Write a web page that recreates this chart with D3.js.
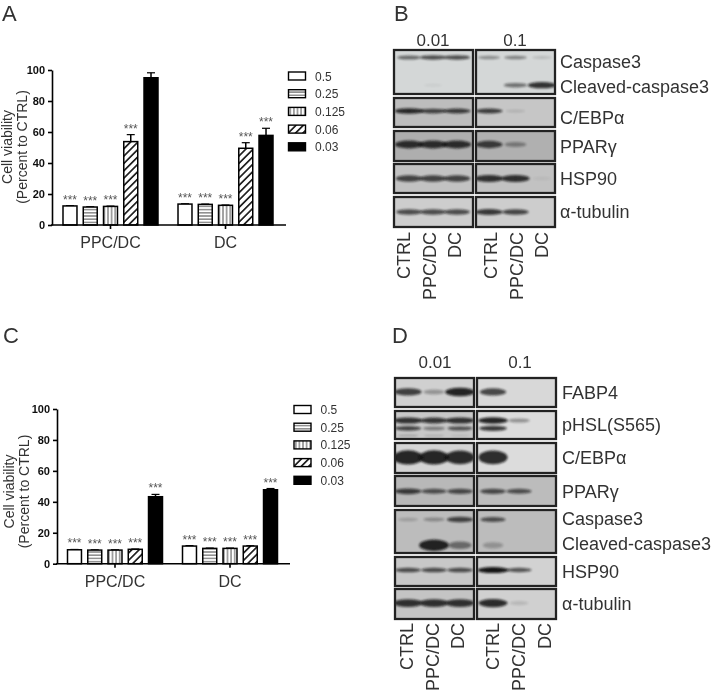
<!DOCTYPE html>
<html>
<head>
    <meta charset="UTF-8">
    <title>Cell viability and western blots</title>
    <script src="https://d3js.org/d3.v7.min.js"></script>
    <style>
        body { margin: 0; background: #fff; }
        text { font-family: "Liberation Sans", Arial, sans-serif; fill: #333; }
    </style>
</head>
<body>
    <div id="chart"></div>
    <script>
        // doses and groups shared by both bar charts
        var groups = ["PPC/DC", "DC"];
        var doses = ["0.5", "0.25", "0.125", "0.06", "0.03"];
        var yTicks = [0, 20, 40, 60, 80, 100];

        // panel A
        var aPpcDc = [12.3, 11.6, 12, 53.8, 95];
        var aPpcDcErr = [0.2, 0.2, 0.2, 4.5, 3.2];
        var aDc = [13.5, 13.3, 12.7, 49.5, 57.8];
        var aDcErr = [0.2, 0.2, 0.2, 3.6, 4.6];
        var aPpcDcStars = ["***", "***", "***", "***", ""];
        var aDcStars = ["***", "***", "***", "***", "***"];

        // panel C
        var cPpcDc = [9, 8.8, 8.8, 9.3, 43.3];
        var cPpcDcErr = [0.2, 0.2, 0.2, 0.2, 1.5];
        var cDc = [11.4, 9.9, 9.9, 11.4, 47.8];
        var cDcErr = [0.3, 0.2, 0.2, 0.2, 0.8];
        var cPpcDcStars = ["***", "***", "***", "***", "***"];
        var cDcStars = ["***", "***", "***", "***", "***"];

        // blot band strength 0-1, lanes are CTRL, PPC/DC, DC at 0.01 then at 0.1
        var lanes = ["CTRL", "PPC/DC", "DC"];
        var bCaspase3 = [0.45, 0.6, 0.6, 0.3, 0.35, 0.12];
        var bCleaved = [0, 0.04, 0, 0, 0.42, 0.8];
        var bCebpa = [0.85, 0.65, 0.7, 0.7, 0.1, 0];
        var bPparg = [0.8, 0.8, 0.8, 0.7, 0.3, 0];
        var bHsp90 = [0.65, 0.65, 0.65, 0.8, 0.8, 0.04];
        var bTubulin = [0.6, 0.6, 0.6, 0.75, 0.65, 0];

        var dFabp4 = [0.7, 0.25, 0.9, 0.65, 0, 0];
        var dPhslUpper = [0.8, 0.75, 0.8, 0.9, 0.3, 0];
        var dPhslLower = [0.65, 0.35, 0.55, 0.75, 0, 0];
        var dPhslFaint = [0.2, 0.15, 0.1, 0, 0, 0];
        var dCebpa = [0.9, 0.9, 0.85, 0.85, 0, 0];
        var dPparg = [0.7, 0.55, 0.6, 0.6, 0.55, 0];
        var dCaspase3 = [0.15, 0.25, 0.65, 0.55, 0, 0];
        var dCleaved = [0, 0.9, 0.4, 0.2, 0, 0];
        var dHsp90 = [0.6, 0.6, 0.6, 1, 0.55, 0];
        var dTubulin = [0.8, 0.8, 0.8, 0.85, 0.1, 0];

        var width = 713, height = 694;

        var svg = d3.select("#chart")
            .append("svg")
            .attr("width", width)
            .attr("height", height);

        var defs = svg.append("defs");

        // the figure is a slightly soft scan
        defs.append("filter").attr("id", "soft")
            .attr("filterUnits", "userSpaceOnUse")
            .attr("x", 0).attr("y", 0).attr("width", width).attr("height", height)
            .append("feGaussianBlur").attr("stdDeviation", 0.35);
        defs.append("filter").attr("id", "bandBlur")
            .attr("x", "-30%").attr("y", "-80%").attr("width", "160%").attr("height", "260%")
            .append("feGaussianBlur").attr("stdDeviation", 1.3);

        function addPattern(id, size, angle, lineWidth) {
            var p = defs.append("pattern")
                .attr("id", id)
                .attr("patternUnits", "userSpaceOnUse")
                .attr("width", size)
                .attr("height", size)
                .attr("patternTransform", "rotate(" + angle + ")");
            p.append("rect").attr("width", size).attr("height", size).attr("fill", "#fff");
            p.append("line")
                .attr("x1", 0).attr("x2", size)
                .attr("y1", size / 2).attr("y2", size / 2)
                .attr("stroke", "#222")
                .attr("stroke-width", lineWidth);
        }
        addPattern("horiz", 3.2, 0, 0.8);
        addPattern("vert", 3.6, 90, 0.8);
        addPattern("diag", 5.2, -45, 1.7);

        var fills = ["#fff", "url(#horiz)", "url(#vert)", "url(#diag)", "#000"];

        var root = svg.append("g").attr("filter", "url(#soft)");

        function panelLetter(txt, x, y) {
            root.append("text").attr("x", x).attr("y", y)
                .attr("font-size", 22)
                .text(txt);
        }

        function drawBars(cfg) {
            var g = root.append("g");

            var y = d3.scaleLinear().domain([0, 100]).range([cfg.y0, cfg.y100]);
            var x0 = d3.scaleBand().domain(groups).range([cfg.barsLeft, cfg.barsRight]).paddingInner(0.174);
            var x1 = d3.scaleBand().domain(doses).range([0, x0.bandwidth()]).paddingInner(0.31);

            groups.forEach(function(group, gi) {
                var rows = doses.map(function(dose, i) {
                    return {
                        dose: dose,
                        fill: fills[i],
                        value: cfg.values[gi][i],
                        err: cfg.errs[gi][i],
                        star: cfg.stars[gi][i]
                    };
                });
                var bars = g.append("g")
                    .attr("transform", "translate(" + x0(group) + ",0)")
                    .selectAll("g").data(rows).enter().append("g");

                // error bar, upper half only
                bars.append("line")
                    .attr("x1", function(d) { return x1(d.dose) + x1.bandwidth() / 2; })
                    .attr("x2", function(d) { return x1(d.dose) + x1.bandwidth() / 2; })
                    .attr("y1", function(d) { return y(d.value); })
                    .attr("y2", function(d) { return y(d.value + d.err); })
                    .attr("stroke", "#000").attr("stroke-width", 1.5);
                bars.append("line")
                    .attr("x1", function(d) { return x1(d.dose) + x1.bandwidth() / 2 - 4; })
                    .attr("x2", function(d) { return x1(d.dose) + x1.bandwidth() / 2 + 4; })
                    .attr("y1", function(d) { return y(d.value + d.err); })
                    .attr("y2", function(d) { return y(d.value + d.err); })
                    .attr("stroke", "#000").attr("stroke-width", 1.2);

                bars.append("rect")
                    .attr("x", function(d) { return x1(d.dose); })
                    .attr("width", x1.bandwidth())
                    .attr("y", function(d) { return y(d.value); })
                    .attr("height", function(d) { return y(0) - y(d.value); })
                    .attr("fill", function(d) { return d.fill; })
                    .attr("stroke", "#000")
                    .attr("stroke-width", 1.5);

                bars.append("text")
                    .attr("x", function(d) { return x1(d.dose) + x1.bandwidth() / 2; })
                    .attr("y", function(d) { return y(d.value + d.err) - 2; })
                    .attr("text-anchor", "middle")
                    .attr("font-size", 12)
                    .style("fill", "#555")
                    .text(function(d) { return d.star; });
            });

            // axes
            var yAxis = g.append("g")
                .attr("transform", "translate(" + cfg.axisX + ",0)")
                .call(d3.axisLeft(y).tickValues(yTicks).tickSize(4).tickSizeOuter(0));
            yAxis.selectAll("path, line").attr("stroke", "#000").attr("stroke-width", 1.6);
            yAxis.selectAll("text")
                .attr("font-size", 11)
                .attr("font-weight", "bold")
                .attr("font-family", null)
                .style("fill", "#111");

            var xAxis = g.append("g")
                .attr("transform", "translate(0," + cfg.y0 + ")")
                .call(d3.axisBottom(x0).tickSize(4).tickSizeOuter(0));
            xAxis.select(".domain").remove();
            xAxis.selectAll("line").attr("stroke", "#000").attr("stroke-width", 1.6);
            xAxis.selectAll("text")
                .attr("font-size", 16)
                .attr("font-family", null)
                .attr("dy", "1.02em");
            g.append("line")
                .attr("x1", cfg.axisX - 1).attr("x2", cfg.axisEnd)
                .attr("y1", cfg.y0).attr("y2", cfg.y0)
                .attr("stroke", "#000").attr("stroke-width", 1.6);

            // y title, two lines
            ["Cell viability", "(Percent to CTRL)"].forEach(function(line, i) {
                g.append("text")
                    .attr("transform", "translate(" + (cfg.titleX + i * 15) + "," + cfg.titleY + ") rotate(-90)")
                    .attr("text-anchor", "middle")
                    .attr("font-size", 14)
                    .text(line);
            });

            // legend
            var legend = g.selectAll(".legend").data(doses).enter().append("g")
                .attr("transform", function(d, i) {
                    return "translate(" + cfg.legendX + "," + (cfg.legendY + i * 17.7) + ")";
                });
            legend.append("rect")
                .attr("x", 0).attr("y", -4)
                .attr("width", 17).attr("height", 8)
                .attr("fill", function(d, i) { return fills[i]; })
                .attr("stroke", "#000")
                .attr("stroke-width", 1.4);
            legend.append("text")
                .attr("x", 26.5).attr("y", 4.5)
                .attr("font-size", 12)
                .text(function(d) { return d; });
        }

        // band look is derived from strength through scales
        var bandDark = d3.scaleLinear().domain([0, 0.5, 1]).range([0, 0.6, 0.95]);
        var bandWide = d3.scaleLinear().domain([0, 0.01, 1]).range([0, 18, 31]);
        var bandThick = d3.scaleLinear().domain([0, 1]).range([0.4, 1]);

        function drawBlot(cfg) {
            var g = root.append("g");

            [0, 1].forEach(function(side) {
                var px = cfg.panels[side];
                var lane = d3.scalePoint().domain(lanes).range(cfg.laneRanges[side]);
                var laneText = d3.scalePoint().domain(lanes).range(cfg.labelRanges[side]);

                g.append("text")
                    .attr("x", cfg.headX[side])
                    .attr("y", cfg.headY)
                    .attr("text-anchor", "middle")
                    .attr("font-size", 17)
                    .text(cfg.heads[side]);

                cfg.rows.forEach(function(row, ri) {
                    var clipId = cfg.id + side + "r" + ri;
                    defs.append("clipPath").attr("id", clipId)
                        .append("rect")
                        .attr("x", px[0]).attr("y", row.y[0])
                        .attr("width", px[1] - px[0]).attr("height", row.y[1] - row.y[0]);

                    g.append("rect")
                        .attr("x", px[0]).attr("y", row.y[0])
                        .attr("width", px[1] - px[0]).attr("height", row.y[1] - row.y[0])
                        .attr("fill", row.bg[side]);

                    row.tracks.forEach(function(track) {
                        var vals = track.values.slice(side * 3, side * 3 + 3);
                        var cy = row.y[0] + track.at * (row.y[1] - row.y[0]);
                        g.append("g").attr("clip-path", "url(#" + clipId + ")")
                            .selectAll("ellipse")
                            .data(vals.map(function(v, i) { return {lane: lanes[i], v: v}; }))
                            .enter().append("ellipse")
                            .attr("cx", function(d) { return lane(d.lane); })
                            .attr("cy", cy)
                            .attr("rx", function(d) { return bandWide(d.v) / 2; })
                            .attr("ry", function(d) { return track.thick * bandThick(d.v) / 2; })
                            .attr("fill", "#111")
                            .attr("opacity", function(d) { return bandDark(d.v); })
                            .attr("filter", "url(#bandBlur)");
                    });

                    g.append("rect")
                        .attr("x", px[0]).attr("y", row.y[0])
                        .attr("width", px[1] - px[0]).attr("height", row.y[1] - row.y[0])
                        .attr("fill", "none")
                        .attr("stroke", "#222")
                        .attr("stroke-width", 2.3);
                });

                g.selectAll(".laneLabel" + side).data(lanes).enter().append("text")
                    .attr("transform", function(d) {
                        return "translate(" + laneText(d) + "," + cfg.laneY + ") rotate(-90)";
                    })
                    .attr("text-anchor", "end")
                    .attr("dominant-baseline", "central")
                    .attr("font-size", 18)
                    .text(function(d) { return d; });
            });

            cfg.labels.forEach(function(l) {
                g.append("text")
                    .attr("x", cfg.labelX).attr("y", l[1] + 6)
                    .attr("font-size", 18)
                    .text(l[0]);
            });
        }

        panelLetter("A", 2, 21);
        panelLetter("B", 394, 21);
        panelLetter("C", 3, 343);
        panelLetter("D", 392, 343);

        drawBars({
            values: [aPpcDc, aDc], errs: [aPpcDcErr, aDcErr], stars: [aPpcDcStars, aDcStars],
            y0: 225, y100: 70, axisX: 52, axisEnd: 286,
            barsLeft: 63, barsRight: 273,
            titleX: 12, titleY: 147, legendX: 288.5, legendY: 76
        });

        drawBars({
            values: [cPpcDc, cDc], errs: [cPpcDcErr, cDcErr], stars: [cPpcDcStars, cDcStars],
            y0: 563.7, y100: 409, axisX: 57, axisEnd: 290,
            barsLeft: 67.5, barsRight: 277.5,
            titleX: 14, titleY: 491.5, legendX: 294, legendY: 409.5
        });

        drawBlot({
            id: "b",
            heads: ["0.01", "0.1"], headY: 46, headX: [433, 515],
            panels: [[394, 473], [476, 555]],
            laneRanges: [[409, 457], [489, 542]],
            labelRanges: [[404, 455], [491, 542]],
            laneY: 232, labelX: 560,
            rows: [
                {y: [50, 94], bg: ["#d4d7d7", "#d4d7d7"], tracks: [
                    {values: bCaspase3, at: 0.17, thick: 6},
                    {values: bCleaved, at: 0.8, thick: 7}]},
                {y: [98, 127], bg: ["#bdbdbd", "#c6c6c6"], tracks: [{values: bCebpa, at: 0.45, thick: 6}]},
                {y: [131, 161], bg: ["#aeaeae", "#b0b0b0"], tracks: [{values: bPparg, at: 0.45, thick: 9}]},
                {y: [164, 193], bg: ["#c2c2c2", "#c2c2c2"], tracks: [{values: bHsp90, at: 0.5, thick: 8}]},
                {y: [197, 227], bg: ["#cdcdcd", "#cdcdcd"], tracks: [{values: bTubulin, at: 0.5, thick: 7}]}
            ],
            labels: [["Caspase3", 62], ["Cleaved-caspase3", 87], ["C/EBPα", 118], ["PPARγ", 147], ["HSP90", 179], ["α-tubulin", 212]]
        });

        drawBlot({
            id: "d",
            heads: ["0.01", "0.1"], headY: 368, headX: [435, 520],
            panels: [[395, 474], [477, 556]],
            laneRanges: [[408, 460], [493, 545]],
            labelRanges: [[407, 458], [493, 545]],
            laneY: 623, labelX: 562,
            rows: [
                {y: [378, 407], bg: ["#d0d0d0", "#d8d8d8"], tracks: [{values: dFabp4, at: 0.48, thick: 9}]},
                {y: [411, 439], bg: ["#c8c8c8", "#dcdcdc"], tracks: [
                    {values: dPhslUpper, at: 0.34, thick: 7},
                    {values: dPhslLower, at: 0.62, thick: 6},
                    {values: dPhslFaint, at: 0.88, thick: 3}]},
                {y: [443, 473], bg: ["#d4d4d4", "#dcdcdc"], tracks: [{values: dCebpa, at: 0.48, thick: 15}]},
                {y: [476, 506], bg: ["#b8b8b8", "#bcbcbc"], tracks: [{values: dPparg, at: 0.51, thick: 7}]},
                {y: [510, 553], bg: ["#bcbcbc", "#bcbcbc"], tracks: [
                    {values: dCaspase3, at: 0.22, thick: 7},
                    {values: dCleaved, at: 0.82, thick: 12}]},
                {y: [557, 586], bg: ["#c8c8c8", "#d2d2d2"], tracks: [{values: dHsp90, at: 0.45, thick: 6}]},
                {y: [589, 619], bg: ["#c4c4c4", "#d0d0d0"], tracks: [{values: dTubulin, at: 0.47, thick: 9}]}
            ],
            labels: [["FABP4", 393], ["pHSL(S565)", 425], ["C/EBPα", 458], ["PPARγ", 492], ["Caspase3", 519], ["Cleaved-caspase3", 544], ["HSP90", 572], ["α-tubulin", 604]]
        });
    </script>
</body>
</html>
